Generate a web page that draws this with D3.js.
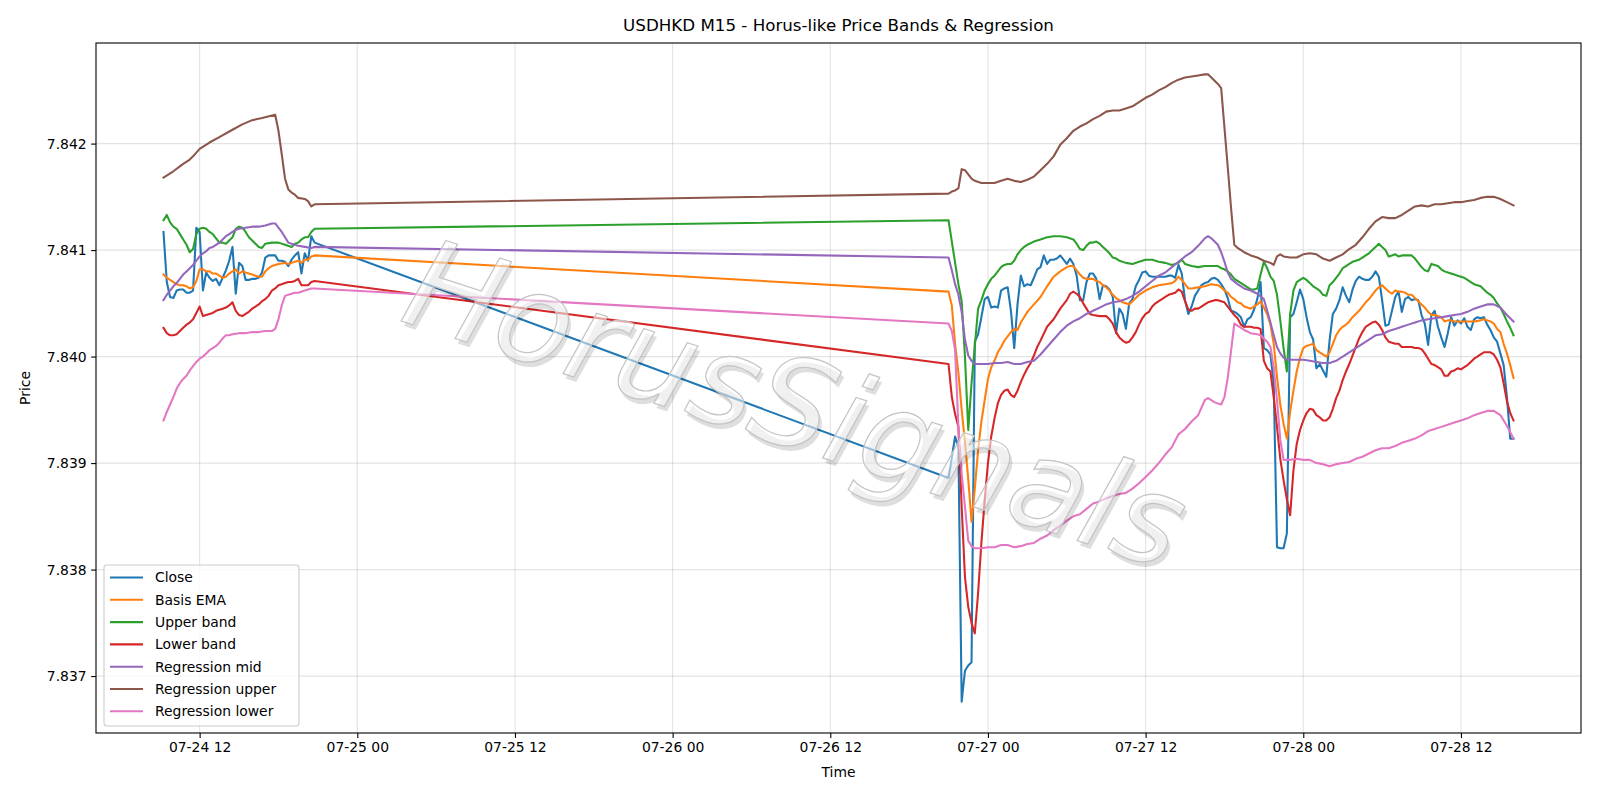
<!DOCTYPE html>
<html>
<head>
<meta charset="utf-8">
<script src="https://cdn.jsdelivr.net/npm/d3@7"></script>
<style>
  body { margin: 0; background: #fff; }
  text { font-family: "DejaVu Sans", sans-serif; }
</style>
</head>
<body>
<div id="vis"></div>
<script>
// series, [day hh:mm (July 2020, UTC), price]
const closeData = [
  ["24 09:15",7.84117],["24 09:30",7.84070],["24 09:45",7.84056],["24 10:00",7.84055],["24 10:15",7.84062],["24 10:30",7.84063],
  ["24 10:45",7.84063],["24 11:00",7.84060],["24 11:15",7.84060],["24 11:30",7.84062],["24 11:45",7.84121],["24 12:00",7.84117],
  ["24 12:15",7.84062],["24 12:30",7.84079],["24 12:45",7.84074],["24 13:00",7.84071],["24 13:15",7.84073],["24 13:30",7.84067],
  ["24 13:45",7.84074],["24 14:00",7.84081],["24 14:15",7.84090],["24 14:30",7.84103],["24 14:45",7.84059],["24 15:00",7.84088],
  ["24 15:15",7.84085],["24 15:30",7.84072],["24 15:45",7.84072],["24 16:00",7.84073],["24 16:15",7.84073],["24 16:30",7.84074],
  ["24 16:45",7.84079],["24 17:00",7.84093],["24 17:15",7.84095],["24 17:30",7.84095],["24 17:45",7.84095],["24 18:00",7.84090],
  ["24 18:15",7.84090],["24 18:30",7.84089],["24 18:45",7.84085],["24 19:00",7.84091],["24 19:15",7.84095],["24 19:30",7.84098],
  ["24 19:45",7.84078],["24 20:00",7.84097],["24 20:15",7.84090],["24 20:30",7.84113],["24 20:45",7.84107],
  ["26 21:00",7.83886],["26 21:15",7.83905],["26 21:30",7.83925],["26 21:45",7.83915],["26 22:00",7.83676],["26 22:15",7.83705],
  ["26 22:30",7.83710],["26 22:45",7.83713],["26 23:00",7.84014],["26 23:15",7.84021],["26 23:30",7.84037],["26 23:45",7.84054],
  ["27 00:00",7.84056],["27 00:15",7.84046],["27 00:30",7.84047],["27 00:45",7.84046],["27 01:00",7.84062],["27 01:15",7.84064],
  ["27 01:30",7.84065],["27 01:45",7.84043],["27 02:00",7.84008],["27 02:15",7.84049],["27 02:30",7.84076],["27 02:45",7.84066],
  ["27 03:00",7.84068],["27 03:15",7.84067],["27 03:30",7.84074],["27 03:45",7.84082],["27 04:00",7.84084],["27 04:15",7.84095],
  ["27 04:30",7.84087],["27 04:45",7.84091],["27 05:00",7.84091],["27 05:15",7.84092],["27 05:30",7.84095],["27 05:45",7.84091],
  ["27 06:00",7.84087],["27 06:15",7.84092],["27 06:30",7.84087],["27 06:45",7.84076],["27 07:00",7.84053],["27 07:15",7.84053],
  ["27 07:30",7.84070],["27 07:45",7.84078],["27 08:00",7.84078],["27 08:15",7.84073],["27 08:30",7.84054],["27 08:45",7.84067],
  ["27 09:00",7.84066],["27 09:15",7.84063],["27 09:30",7.84056],["27 09:45",7.84022],["27 10:00",7.84045],["27 10:15",7.84040],
  ["27 10:30",7.84026],["27 10:45",7.84050],["27 11:00",7.84054],["27 11:15",7.84066],["27 11:30",7.84072],["27 11:45",7.84079],
  ["27 12:00",7.84080],["27 12:15",7.84076],["27 12:30",7.84075],["27 12:45",7.84075],["27 13:00",7.84075],["27 13:15",7.84075],
  ["27 13:30",7.84075],["27 13:45",7.84076],["27 14:00",7.84076],["27 14:15",7.84074],["27 14:30",7.84086],["27 14:45",7.84078],
  ["27 15:00",7.84053],["27 15:15",7.84040],["27 15:30",7.84047],["27 15:45",7.84057],["27 16:00",7.84062],["27 16:15",7.84067],
  ["27 16:30",7.84069],["27 16:45",7.84070],["27 17:00",7.84073],["27 17:15",7.84074],["27 17:30",7.84072],["27 17:45",7.84068],
  ["27 18:00",7.84063],["27 18:15",7.84055],["27 18:30",7.84043],["27 18:45",7.84042],["27 19:00",7.84040],["27 19:15",7.84037],
  ["27 19:30",7.84028],["27 19:45",7.84035],["27 20:00",7.84037],["27 20:15",7.84044],["27 20:30",7.84054],["27 20:45",7.84070],
  ["27 21:00",7.84008],["27 21:15",7.84006],["27 21:30",7.84002],["27 21:45",7.83975],["27 22:00",7.83821],["27 22:15",7.83820],
  ["27 22:30",7.83820],["27 22:45",7.83834],["27 23:00",7.84037],["27 23:15",7.84040],["27 23:30",7.84051],["27 23:45",7.84063],
  ["28 00:00",7.84054],["28 00:15",7.84037],["28 00:30",7.84023],["28 00:45",7.84016],["28 01:00",7.83989],["28 01:15",7.83993],
  ["28 01:30",7.83987],["28 01:45",7.83981],["28 02:00",7.84015],["28 02:15",7.84040],["28 02:30",7.84045],["28 02:45",7.84053],
  ["28 03:00",7.84065],["28 03:15",7.84057],["28 03:30",7.84051],["28 03:45",7.84063],["28 04:00",7.84071],["28 04:15",7.84075],
  ["28 04:30",7.84073],["28 04:45",7.84072],["28 05:00",7.84072],["28 05:15",7.84075],["28 05:30",7.84080],["28 05:45",7.84075],
  ["28 06:00",7.84053],["28 06:15",7.84029],["28 06:30",7.84030],["28 06:45",7.84043],["28 07:00",7.84056],["28 07:15",7.84061],
  ["28 07:30",7.84042],["28 07:45",7.84054],["28 08:00",7.84056],["28 08:15",7.84053],["28 08:30",7.84054],["28 08:45",7.84053],
  ["28 09:00",7.84039],["28 09:15",7.84031],["28 09:30",7.84011],["28 09:45",7.84039],["28 10:00",7.84043],["28 10:15",7.84028],
  ["28 10:30",7.84018],["28 10:45",7.84009],["28 11:00",7.84022],["28 11:15",7.84037],["28 11:30",7.84029],["28 11:45",7.84034],
  ["28 12:00",7.84031],["28 12:15",7.84036],["28 12:30",7.84028],["28 12:45",7.84025],["28 13:00",7.84035],["28 13:15",7.84037],
  ["28 13:30",7.84036],["28 13:45",7.84037],["28 14:00",7.84030],["28 14:15",7.84025],["28 14:30",7.84018],["28 14:45",7.84014],
  ["28 15:00",7.84003],["28 15:15",7.83992],["28 15:30",7.83962],["28 15:45",7.83923],["28 16:00",7.83923]
]

const emaData = [
  ["24 09:15",7.84077],["24 09:30",7.84074],["24 09:45",7.84072],["24 10:00",7.84070],["24 10:15",7.84068],["24 10:30",7.84067],
  ["24 10:45",7.84067],["24 11:00",7.84066],["24 11:15",7.84064],["24 11:30",7.84065],["24 11:45",7.84071],["24 12:00",7.84082],
  ["24 12:15",7.84082],["24 12:30",7.84080],["24 12:45",7.84080],["24 13:00",7.84078],["24 13:15",7.84078],["24 13:30",7.84076],
  ["24 13:45",7.84074],["24 14:00",7.84075],["24 14:15",7.84078],["24 14:30",7.84080],["24 14:45",7.84082],["24 15:00",7.84078],
  ["24 15:15",7.84080],["24 15:30",7.84079],["24 15:45",7.84078],["24 16:00",7.84077],["24 16:15",7.84076],["24 16:30",7.84075],
  ["24 16:45",7.84075],["24 17:00",7.84080],["24 17:15",7.84083],["24 17:30",7.84085],["24 17:45",7.84086],["24 18:00",7.84087],
  ["24 18:30",7.84088],["24 18:45",7.84087],["24 19:00",7.84088],["24 19:15",7.84089],["24 19:30",7.84090],["24 19:45",7.84088],
  ["24 20:00",7.84091],["24 20:15",7.84091],["24 20:30",7.84094],["24 20:45",7.84095],
  ["26 21:00",7.84061],["26 21:15",7.84048],["26 21:30",7.84012],["26 21:45",7.83985],["26 22:00",7.83950],["26 22:15",7.83920],
  ["26 22:30",7.83885],["26 22:45",7.83845],["26 23:00",7.83876],["26 23:15",7.83912],["26 23:30",7.83939],["26 23:45",7.83959],
  ["27 00:00",7.83979],["27 00:15",7.83990],["27 00:30",7.83996],["27 00:45",7.84004],["27 01:00",7.84009],["27 01:15",7.84015],
  ["27 01:30",7.84019],["27 01:45",7.84023],["27 02:00",7.84026],["27 02:15",7.84025],["27 02:30",7.84032],["27 02:45",7.84037],
  ["27 03:00",7.84042],["27 03:30",7.84049],["27 04:00",7.84056],["27 04:30",7.84066],["27 05:00",7.84075],["27 05:30",7.84080],
  ["27 06:00",7.84084],["27 06:15",7.84085],["27 06:30",7.84085],["27 06:45",7.84081],["27 07:00",7.84077],["27 07:15",7.84074],
  ["27 07:30",7.84073],["27 07:45",7.84073],["27 08:00",7.84073],["27 08:15",7.84071],["27 08:30",7.84070],["27 08:45",7.84067],
  ["27 09:00",7.84065],["27 09:15",7.84062],["27 09:30",7.84058],["27 09:45",7.84055],["27 10:00",7.84053],["27 10:15",7.84051],
  ["27 10:30",7.84050],["27 10:45",7.84049],["27 11:00",7.84052],["27 11:15",7.84055],["27 11:30",7.84058],["27 11:45",7.84060],
  ["27 12:00",7.84062],["27 12:30",7.84065],["27 13:00",7.84067],["27 13:30",7.84068],["27 14:00",7.84069],["27 14:15",7.84071],
  ["27 14:30",7.84075],["27 14:45",7.84072],["27 15:00",7.84068],["27 15:15",7.84064],["27 15:30",7.84064],["27 16:00",7.84065],
  ["27 16:30",7.84066],["27 17:00",7.84068],["27 17:30",7.84067],["27 17:45",7.84065],["27 18:00",7.84062],["27 18:15",7.84060],
  ["27 18:30",7.84056],["27 18:45",7.84054],["27 19:00",7.84051],["27 19:15",7.84050],["27 19:30",7.84047],["27 19:45",7.84046],
  ["27 20:00",7.84045],["27 20:15",7.84047],["27 20:30",7.84049],["27 20:45",7.84052],["27 21:00",7.84046],["27 21:15",7.84040],
  ["27 21:30",7.84030],["27 21:45",7.84012],["27 22:00",7.83981],["27 22:15",7.83955],["27 22:30",7.83937],["27 22:45",7.83923],
  ["27 23:00",7.83948],["27 23:15",7.83968],["27 23:30",7.83986],["27 23:45",7.83999],["28 00:00",7.84008],["28 00:15",7.84010],
  ["28 00:30",7.84011],["28 00:45",7.84012],["28 01:00",7.84006],["28 01:15",7.84004],["28 01:30",7.84002],["28 01:45",7.84000],
  ["28 02:00",7.84004],["28 02:15",7.84012],["28 02:30",7.84020],["28 02:45",7.84025],["28 03:00",7.84028],["28 03:15",7.84030],
  ["28 03:30",7.84033],["28 03:45",7.84037],["28 04:00",7.84040],["28 04:15",7.84043],["28 04:30",7.84047],["28 04:45",7.84051],
  ["28 05:00",7.84054],["28 05:15",7.84058],["28 05:30",7.84062],["28 05:45",7.84065],["28 06:00",7.84067],["28 06:15",7.84064],
  ["28 06:30",7.84061],["28 06:45",7.84059],["28 07:00",7.84062],["28 07:15",7.84061],["28 07:30",7.84061],["28 07:45",7.84060],
  ["28 08:00",7.84058],["28 08:15",7.84058],["28 08:30",7.84055],["28 08:45",7.84052],["28 09:00",7.84049],["28 09:15",7.84046],
  ["28 09:30",7.84042],["28 09:45",7.84039],["28 10:00",7.84039],["28 10:15",7.84038],["28 10:30",7.84037],["28 10:45",7.84033],
  ["28 11:00",7.84034],["28 11:15",7.84034],["28 11:30",7.84033],["28 12:00",7.84033],["28 12:30",7.84033],["28 13:00",7.84033],
  ["28 13:30",7.84034],["28 13:45",7.84035],["28 14:00",7.84034],["28 14:15",7.84033],["28 14:30",7.84031],["28 14:45",7.84026],
  ["28 15:00",7.84023],["28 15:15",7.84012],["28 15:30",7.84003],["28 15:45",7.83992],["28 16:00",7.83980]
]

const upperData = [
  ["24 09:15",7.84128],["24 09:30",7.84133],["24 09:45",7.84126],["24 10:00",7.84122],["24 10:15",7.84120],["24 10:30",7.84115],
  ["24 10:45",7.84110],["24 11:00",7.84105],["24 11:15",7.84098],["24 11:30",7.84101],["24 11:45",7.84115],["24 12:00",7.84120],
  ["24 12:15",7.84121],["24 12:30",7.84120],["24 12:45",7.84117],["24 13:00",7.84115],["24 13:15",7.84111],["24 13:30",7.84107],
  ["24 13:45",7.84107],["24 14:00",7.84106],["24 14:15",7.84109],["24 14:30",7.84112],["24 14:45",7.84120],["24 15:00",7.84122],
  ["24 15:15",7.84121],["24 15:30",7.84117],["24 15:45",7.84112],["24 16:00",7.84109],["24 16:15",7.84106],["24 16:30",7.84103],
  ["24 16:45",7.84102],["24 17:00",7.84106],["24 17:30",7.84107],["24 18:00",7.84107],["24 18:30",7.84105],["24 19:00",7.84103],
  ["24 19:15",7.84106],["24 19:30",7.84107],["24 19:45",7.84110],["24 20:00",7.84112],["24 20:15",7.84112],["24 20:30",7.84117],
  ["24 20:45",7.84120],
  ["26 21:00",7.84128],["26 21:15",7.84108],["26 21:30",7.84088],["26 21:45",7.84068],["26 22:00",7.84052],["26 22:15",7.84000],
  ["26 22:30",7.83931],["26 22:45",7.83975],["26 23:00",7.84010],["26 23:15",7.84045],["26 23:30",7.84053],["26 23:45",7.84062],
  ["27 00:00",7.84068],["27 00:15",7.84073],["27 00:30",7.84076],["27 00:45",7.84080],["27 01:00",7.84084],["27 01:15",7.84086],
  ["27 01:30",7.84087],["27 01:45",7.84087],["27 02:00",7.84090],["27 02:15",7.84096],["27 02:30",7.84100],["27 02:45",7.84103],
  ["27 03:00",7.84105],["27 03:30",7.84108],["27 04:00",7.84110],["27 04:30",7.84112],["27 05:00",7.84113],["27 05:30",7.84113],
  ["27 06:00",7.84112],["27 06:30",7.84110],["27 06:45",7.84106],["27 07:00",7.84101],["27 07:15",7.84100],["27 07:30",7.84104],
  ["27 07:45",7.84107],["27 08:00",7.84107],["27 08:15",7.84108],["27 08:30",7.84106],["27 08:45",7.84103],["27 09:00",7.84100],
  ["27 09:15",7.84097],["27 09:30",7.84093],["27 09:45",7.84092],["27 10:00",7.84090],["27 10:30",7.84088],["27 11:00",7.84087],
  ["27 11:30",7.84089],["27 12:00",7.84091],["27 12:30",7.84091],["27 13:00",7.84089],["27 13:30",7.84088],["27 14:00",7.84086],
  ["27 14:30",7.84088],["27 14:45",7.84091],["27 15:00",7.84087],["27 15:30",7.84085],["27 16:00",7.84084],["27 16:30",7.84085],
  ["27 17:00",7.84085],["27 17:30",7.84085],["27 17:45",7.84083],["27 18:00",7.84082],["27 18:15",7.84080],["27 18:30",7.84077],
  ["27 18:45",7.84073],["27 19:00",7.84071],["27 19:30",7.84067],["27 20:00",7.84063],["27 20:15",7.84063],["27 20:30",7.84064],
  ["27 20:45",7.84077],["27 21:00",7.84089],["27 21:15",7.84083],["27 21:30",7.84075],["27 21:45",7.84071],["27 22:00",7.84058],
  ["27 22:15",7.84034],["27 22:30",7.84008],["27 22:45",7.83986],["27 23:00",7.84040],["27 23:15",7.84062],["27 23:30",7.84070],
  ["27 23:45",7.84072],["28 00:00",7.84074],["28 00:15",7.84072],["28 00:30",7.84069],["28 00:45",7.84066],["28 01:00",7.84064],
  ["28 01:15",7.84062],["28 01:30",7.84058],["28 01:45",7.84057],["28 02:00",7.84067],["28 02:15",7.84070],["28 02:30",7.84074],
  ["28 02:45",7.84078],["28 03:00",7.84083],["28 03:15",7.84085],["28 03:30",7.84087],["28 03:45",7.84089],["28 04:00",7.84090],
  ["28 04:15",7.84091],["28 04:30",7.84093],["28 04:45",7.84095],["28 05:00",7.84097],["28 05:15",7.84100],["28 05:30",7.84103],
  ["28 05:45",7.84106],["28 06:00",7.84103],["28 06:15",7.84100],["28 06:30",7.84094],["28 06:45",7.84095],["28 07:00",7.84096],
  ["28 07:15",7.84094],["28 07:30",7.84095],["28 07:45",7.84095],["28 08:00",7.84095],["28 08:15",7.84095],["28 08:30",7.84092],
  ["28 08:45",7.84088],["28 09:00",7.84084],["28 09:15",7.84081],["28 09:30",7.84080],["28 09:45",7.84087],["28 10:00",7.84086],
  ["28 10:15",7.84085],["28 10:30",7.84082],["28 10:45",7.84080],["28 11:00",7.84079],["28 11:15",7.84078],["28 11:30",7.84077],
  ["28 11:45",7.84076],["28 12:00",7.84075],["28 12:15",7.84074],["28 12:30",7.84072],["28 12:45",7.84070],["28 13:00",7.84068],
  ["28 13:15",7.84067],["28 13:30",7.84066],["28 13:45",7.84063],["28 14:00",7.84060],["28 14:15",7.84058],["28 14:30",7.84055],
  ["28 14:45",7.84050],["28 15:00",7.84046],["28 15:15",7.84040],["28 15:30",7.84033],["28 15:45",7.84027],["28 16:00",7.84020]
]

const lowerData = [
  ["24 09:15",7.84027],["24 09:30",7.84022],["24 09:45",7.84020],["24 10:00",7.84020],["24 10:15",7.84021],["24 10:30",7.84024],
  ["24 10:45",7.84027],["24 11:00",7.84030],["24 11:15",7.84032],["24 11:30",7.84035],["24 11:45",7.84041],["24 12:00",7.84047],
  ["24 12:15",7.84038],["24 12:30",7.84039],["24 12:45",7.84040],["24 13:00",7.84041],["24 13:15",7.84043],["24 13:30",7.84044],
  ["24 13:45",7.84045],["24 14:00",7.84046],["24 14:15",7.84048],["24 14:30",7.84051],["24 14:45",7.84043],["24 15:00",7.84039],
  ["24 15:15",7.84038],["24 15:30",7.84040],["24 15:45",7.84042],["24 16:00",7.84045],["24 16:15",7.84047],["24 16:30",7.84049],
  ["24 16:45",7.84052],["24 17:00",7.84054],["24 17:15",7.84057],["24 17:30",7.84062],["24 17:45",7.84064],["24 18:00",7.84067],
  ["24 18:15",7.84068],["24 18:30",7.84069],["24 18:45",7.84070],["24 19:00",7.84070],["24 19:15",7.84071],["24 19:30",7.84073],
  ["24 19:45",7.84067],["24 20:00",7.84067],["24 20:15",7.84067],["24 20:30",7.84070],["24 20:45",7.84071],
  ["26 21:00",7.83993],["26 21:15",7.83962],["26 21:30",7.83946],["26 21:45",7.83934],["26 22:00",7.83859],["26 22:15",7.83793],
  ["26 22:30",7.83765],["26 22:45",7.83750],["26 23:00",7.83740],["26 23:15",7.83778],["26 23:30",7.83825],["26 23:45",7.83865],
  ["27 00:00",7.83900],["27 00:15",7.83925],["27 00:30",7.83942],["27 00:45",7.83956],["27 01:00",7.83964],["27 01:15",7.83968],
  ["27 01:30",7.83969],["27 01:45",7.83964],["27 02:00",7.83962],["27 02:15",7.83968],["27 02:30",7.83976],["27 02:45",7.83983],
  ["27 03:00",7.83989],["27 03:15",7.83994],["27 03:30",7.84001],["27 03:45",7.84009],["27 04:00",7.84015],["27 04:30",7.84028],
  ["27 05:00",7.84035],["27 05:30",7.84045],["27 06:00",7.84053],["27 06:15",7.84059],["27 06:30",7.84061],["27 06:45",7.84059],
  ["27 07:00",7.84056],["27 07:15",7.84050],["27 07:30",7.84045],["27 07:45",7.84040],["27 08:00",7.84039],["27 08:30",7.84038],
  ["27 09:00",7.84038],["27 09:15",7.84035],["27 09:30",7.84031],["27 09:45",7.84023],["27 10:00",7.84018],["27 10:15",7.84015],
  ["27 10:30",7.84013],["27 10:45",7.84014],["27 11:00",7.84018],["27 11:15",7.84023],["27 11:30",7.84030],["27 11:45",7.84036],
  ["27 12:00",7.84040],["27 12:15",7.84042],["27 12:30",7.84047],["27 12:45",7.84050],["27 13:00",7.84052],["27 13:15",7.84054],
  ["27 13:30",7.84056],["27 13:45",7.84058],["27 14:00",7.84059],["27 14:15",7.84060],["27 14:30",7.84063],["27 14:45",7.84061],
  ["27 15:00",7.84052],["27 15:15",7.84044],["27 15:30",7.84043],["27 15:45",7.84045],["27 16:00",7.84045],["27 16:15",7.84047],
  ["27 16:30",7.84049],["27 16:45",7.84051],["27 17:00",7.84052],["27 17:15",7.84053],["27 17:30",7.84053],["27 17:45",7.84052],
  ["27 18:00",7.84051],["27 18:15",7.84047],["27 18:30",7.84043],["27 18:45",7.84039],["27 19:00",7.84036],["27 19:15",7.84030],
  ["27 19:30",7.84028],["27 19:45",7.84028],["27 20:00",7.84028],["27 20:15",7.84027],["27 20:30",7.84027],["27 20:45",7.84026],
  ["27 21:00",7.83996],["27 21:15",7.83989],["27 21:30",7.83986],["27 21:45",7.83962],["27 22:00",7.83934],["27 22:15",7.83904],
  ["27 22:30",7.83884],["27 22:45",7.83866],["27 23:00",7.83851],["27 23:15",7.83893],["27 23:30",7.83918],["27 23:45",7.83931],
  ["28 00:00",7.83940],["28 00:15",7.83947],["28 00:30",7.83951],["28 00:45",7.83950],["28 01:00",7.83945],["28 01:15",7.83943],
  ["28 01:30",7.83940],["28 01:45",7.83940],["28 02:00",7.83943],["28 02:15",7.83951],["28 02:30",7.83961],["28 02:45",7.83968],
  ["28 03:00",7.83978],["28 03:15",7.83986],["28 03:30",7.83993],["28 03:45",7.84001],["28 04:00",7.84009],["28 04:15",7.84017],
  ["28 04:30",7.84023],["28 04:45",7.84028],["28 05:00",7.84030],["28 05:15",7.84032],["28 05:30",7.84033],["28 05:45",7.84030],
  ["28 06:00",7.84025],["28 06:15",7.84018],["28 06:30",7.84014],["28 06:45",7.84013],["28 07:00",7.84012],["28 07:15",7.84012],
  ["28 07:30",7.84009],["28 07:45",7.84009],["28 08:00",7.84009],["28 08:15",7.84009],["28 08:30",7.84008],["28 08:45",7.84008],
  ["28 09:00",7.84007],["28 09:15",7.84003],["28 09:30",7.83998],["28 09:45",7.83993],["28 10:00",7.83992],["28 10:15",7.83990],
  ["28 10:30",7.83988],["28 10:45",7.83982],["28 11:00",7.83982],["28 11:15",7.83986],["28 11:30",7.83987],["28 11:45",7.83989],
  ["28 12:00",7.83988],["28 12:15",7.83990],["28 12:30",7.83992],["28 12:45",7.83995],["28 13:00",7.83998],["28 13:15",7.84000],
  ["28 13:30",7.84002],["28 13:45",7.84004],["28 14:00",7.84004],["28 14:15",7.84004],["28 14:30",7.84002],["28 14:45",7.83997],
  ["28 15:00",7.83990],["28 15:15",7.83975],["28 15:30",7.83958],["28 15:45",7.83947],["28 16:00",7.83940]
]

const regMidData = [
  ["24 09:15",7.84053],["24 09:30",7.84058],["24 09:45",7.84062],["24 10:00",7.84066],["24 10:15",7.84069],["24 10:30",7.84073],
  ["24 10:45",7.84077],["24 11:00",7.84080],["24 11:15",7.84083],["24 11:30",7.84086],["24 11:45",7.84090],["24 12:00",7.84094],
  ["24 12:15",7.84097],["24 12:30",7.84099],["24 12:45",7.84102],["24 13:00",7.84103],["24 13:15",7.84105],["24 13:30",7.84107],
  ["24 13:45",7.84110],["24 14:00",7.84113],["24 14:15",7.84115],["24 14:30",7.84117],["24 14:45",7.84119],["24 15:00",7.84120],
  ["24 15:30",7.84121],["24 16:00",7.84122],["24 16:30",7.84122],["24 17:00",7.84123],["24 17:30",7.84125],["24 17:45",7.84125],
  ["24 18:00",7.84121],["24 18:15",7.84117],["24 18:30",7.84112],["24 18:45",7.84107],["24 19:00",7.84106],["24 19:30",7.84104],
  ["24 20:00",7.84103],["24 20:30",7.84102],["24 20:45",7.84103],
  ["26 21:00",7.84093],["26 21:15",7.84081],["26 21:30",7.84068],["26 21:45",7.84058],["26 22:00",7.84042],["26 22:15",7.84016],
  ["26 22:30",7.84001],["26 22:45",7.83996],["26 23:00",7.83993],["26 23:30",7.83993],["27 00:00",7.83993],["27 00:30",7.83994],
  ["27 01:00",7.83994],["27 01:30",7.83995],["27 02:00",7.83993],["27 02:30",7.83993],["27 03:00",7.83995],["27 03:30",7.83996],
  ["27 04:00",7.84002],["27 04:30",7.84009],["27 05:00",7.84016],["27 05:30",7.84023],["27 06:00",7.84029],["27 06:30",7.84033],
  ["27 07:00",7.84036],["27 07:30",7.84040],["27 08:00",7.84043],["27 08:30",7.84046],["27 09:00",7.84049],["27 09:30",7.84051],
  ["27 10:00",7.84052],["27 10:30",7.84054],["27 11:00",7.84057],["27 11:30",7.84061],["27 12:00",7.84066],["27 12:30",7.84071],
  ["27 13:00",7.84076],["27 13:30",7.84079],["27 14:00",7.84084],["27 14:30",7.84089],["27 15:00",7.84094],["27 15:30",7.84098],
  ["27 16:00",7.84104],["27 16:30",7.84111],["27 16:45",7.84113],["27 17:00",7.84111],["27 17:15",7.84108],["27 17:30",7.84105],
  ["27 17:45",7.84098],["27 18:00",7.84089],["27 18:15",7.84079],["27 18:30",7.84073],["27 19:00",7.84068],["27 19:30",7.84064],
  ["27 20:00",7.84062],["27 20:30",7.84059],["27 21:00",7.84054],["27 21:15",7.84043],["27 21:30",7.84032],["27 21:45",7.84020],
  ["27 22:00",7.84009],["27 22:15",7.84003],["27 22:30",7.83999],["27 22:45",7.83997],["27 23:00",7.83997],["27 23:30",7.83997],
  ["28 00:00",7.83997],["28 00:30",7.83996],["28 01:00",7.83995],["28 01:30",7.83994],["28 02:00",7.83994],["28 02:30",7.83996],
  ["28 03:00",7.84000],["28 03:30",7.84004],["28 04:00",7.84008],["28 04:30",7.84012],["28 05:00",7.84016],["28 05:30",7.84020],
  ["28 06:00",7.84021],["28 06:30",7.84024],["28 07:00",7.84026],["28 07:30",7.84028],["28 08:00",7.84030],["28 08:30",7.84032],
  ["28 09:00",7.84034],["28 09:30",7.84035],["28 10:00",7.84036],["28 10:30",7.84037],["28 11:00",7.84038],["28 11:30",7.84039],
  ["28 12:00",7.84040],["28 12:30",7.84042],["28 13:00",7.84045],["28 13:30",7.84047],["28 14:00",7.84049],["28 14:30",7.84049],
  ["28 15:00",7.84046],["28 15:30",7.84039],["28 16:00",7.84033]
]

const regUpperData = [
  ["24 09:15",7.84168],["24 10:00",7.84174],["24 10:45",7.84181],["24 11:15",7.84185],["24 11:30",7.84188],["24 12:00",7.84195],
  ["24 12:45",7.84201],["24 13:30",7.84206],["24 14:30",7.84213],["24 15:15",7.84218],["24 16:00",7.84222],["24 16:45",7.84224],
  ["24 17:45",7.84227],["24 18:00",7.84212],["24 18:15",7.84190],["24 18:30",7.84167],["24 18:45",7.84157],["24 19:00",7.84154],
  ["24 19:15",7.84152],["24 19:30",7.84149],["24 20:00",7.84148],["24 20:15",7.84146],["24 20:30",7.84141],["24 20:45",7.84143],
  ["26 21:00",7.84153],["26 21:15",7.84155],["26 21:30",7.84156],["26 21:45",7.84158],["26 22:00",7.84176],["26 22:15",7.84175],
  ["26 22:30",7.84171],["26 22:45",7.84167],["26 23:00",7.84165],["26 23:30",7.84163],["27 00:00",7.84163],["27 00:30",7.84163],
  ["27 01:00",7.84165],["27 01:30",7.84167],["27 02:00",7.84165],["27 02:30",7.84164],["27 03:00",7.84166],["27 03:30",7.84169],
  ["27 04:00",7.84175],["27 04:30",7.84181],["27 05:00",7.84188],["27 05:30",7.84199],["27 06:00",7.84205],["27 06:30",7.84212],
  ["27 07:00",7.84216],["27 07:30",7.84219],["27 08:00",7.84223],["27 08:30",7.84226],["27 09:00",7.84230],["27 09:30",7.84231],
  ["27 10:00",7.84231],["27 10:30",7.84233],["27 11:00",7.84235],["27 11:30",7.84239],["27 12:00",7.84243],["27 12:30",7.84246],
  ["27 13:00",7.84250],["27 13:30",7.84253],["27 14:00",7.84257],["27 14:30",7.84260],["27 15:00",7.84262],["27 15:30",7.84263],
  ["27 16:00",7.84264],["27 16:30",7.84265],["27 16:45",7.84265],["27 17:00",7.84262],["27 17:15",7.84259],["27 17:30",7.84256],
  ["27 17:45",7.84252],["27 18:00",7.84215],["27 18:15",7.84178],["27 18:30",7.84140],["27 18:45",7.84105],["27 19:00",7.84102],
  ["27 19:30",7.84098],["27 20:00",7.84095],["27 20:30",7.84093],["27 21:00",7.84090],["27 21:30",7.84088],["27 21:45",7.84086],
  ["27 22:00",7.84094],["27 22:15",7.84096],["27 22:30",7.84094],["27 23:00",7.84093],["27 23:30",7.84093],["28 00:00",7.84096],
  ["28 00:30",7.84097],["28 01:00",7.84096],["28 01:30",7.84092],["28 02:00",7.84090],["28 02:30",7.84093],["28 03:00",7.84096],
  ["28 03:30",7.84101],["28 04:00",7.84105],["28 04:30",7.84112],["28 05:00",7.84120],["28 05:30",7.84127],["28 06:00",7.84131],
  ["28 06:30",7.84130],["28 07:00",7.84130],["28 07:30",7.84133],["28 08:00",7.84137],["28 08:30",7.84141],["28 09:00",7.84142],
  ["28 09:30",7.84141],["28 10:00",7.84143],["28 10:30",7.84143],["28 11:00",7.84144],["28 11:30",7.84145],["28 12:00",7.84145],
  ["28 12:30",7.84146],["28 13:00",7.84147],["28 13:30",7.84149],["28 14:00",7.84150],["28 14:30",7.84150],["28 15:00",7.84148],
  ["28 15:30",7.84145],["28 16:00",7.84142]
]

const regLowerData = [
  ["24 09:15",7.83940],["24 09:30",7.83948],["24 09:45",7.83955],["24 10:00",7.83962],["24 10:15",7.83970],["24 10:30",7.83975],
  ["24 10:45",7.83979],["24 11:00",7.83982],["24 11:15",7.83987],["24 11:30",7.83991],["24 11:45",7.83995],["24 12:00",7.83998],
  ["24 12:15",7.84000],["24 12:30",7.84003],["24 12:45",7.84006],["24 13:00",7.84008],["24 13:15",7.84010],["24 13:30",7.84013],
  ["24 13:45",7.84017],["24 14:00",7.84020],["24 14:15",7.84020],["24 14:30",7.84021],["24 15:00",7.84022],["24 15:30",7.84022],
  ["24 16:00",7.84023],["24 16:30",7.84023],["24 17:00",7.84024],["24 17:30",7.84024],["24 17:45",7.84026],["24 18:00",7.84035],
  ["24 18:15",7.84048],["24 18:30",7.84057],["24 18:45",7.84058],["24 19:00",7.84059],["24 19:15",7.84060],["24 19:30",7.84060],
  ["24 20:00",7.84062],["24 20:15",7.84063],["24 20:30",7.84064],["24 20:45",7.84064],
  ["26 21:00",7.84031],["26 21:15",7.84024],["26 21:30",7.84006],["26 21:45",7.83934],["26 22:00",7.83890],["26 22:15",7.83859],
  ["26 22:30",7.83827],["26 22:45",7.83822],["26 23:00",7.83820],["26 23:30",7.83820],["27 00:00",7.83821],["27 00:30",7.83821],
  ["27 01:00",7.83823],["27 01:30",7.83823],["27 02:00",7.83821],["27 02:30",7.83822],["27 03:00",7.83824],["27 03:30",7.83825],
  ["27 04:00",7.83829],["27 04:30",7.83832],["27 05:00",7.83837],["27 05:30",7.83841],["27 06:00",7.83846],["27 06:30",7.83850],
  ["27 07:00",7.83852],["27 07:30",7.83857],["27 08:00",7.83862],["27 08:30",7.83864],["27 09:00",7.83867],["27 09:30",7.83869],
  ["27 10:00",7.83871],["27 10:30",7.83872],["27 11:00",7.83876],["27 11:30",7.83881],["27 12:00",7.83887],["27 12:30",7.83893],
  ["27 13:00",7.83900],["27 13:30",7.83908],["27 14:00",7.83915],["27 14:30",7.83927],["27 15:00",7.83932],["27 15:30",7.83939],
  ["27 16:00",7.83945],["27 16:30",7.83959],["27 16:45",7.83961],["27 17:00",7.83959],["27 17:15",7.83957],["27 17:45",7.83955],
  ["27 18:00",7.83962],["27 18:15",7.83980],["27 18:30",7.84005],["27 18:45",7.84031],["27 19:00",7.84029],["27 19:30",7.84025],
  ["27 20:00",7.84022],["27 20:30",7.84021],["27 20:45",7.84020],["27 21:00",7.84017],["27 21:15",7.84014],["27 21:30",7.84009],
  ["27 21:45",7.83990],["27 22:00",7.83959],["27 22:15",7.83922],["27 22:30",7.83903],["27 23:00",7.83903],["27 23:30",7.83904],
  ["28 00:00",7.83903],["28 00:30",7.83903],["28 01:00",7.83900],["28 01:30",7.83899],["28 02:00",7.83897],["28 02:30",7.83899],
  ["28 03:00",7.83900],["28 03:30",7.83901],["28 04:00",7.83904],["28 04:30",7.83906],["28 05:00",7.83909],["28 05:30",7.83912],
  ["28 06:00",7.83914],["28 06:30",7.83914],["28 07:00",7.83916],["28 07:30",7.83919],["28 08:00",7.83921],["28 08:30",7.83923],
  ["28 09:00",7.83926],["28 09:30",7.83930],["28 10:00",7.83932],["28 10:30",7.83934],["28 11:00",7.83936],["28 11:30",7.83938],
  ["28 12:00",7.83940],["28 12:30",7.83942],["28 13:00",7.83945],["28 13:30",7.83947],["28 14:00",7.83949],["28 14:30",7.83949],
  ["28 15:00",7.83945],["28 15:30",7.83935],["28 16:00",7.83923]
]

const seriesNames = ["Close", "Basis EMA", "Upper band", "Lower band", "Regression mid", "Regression upper", "Regression lower"]
const seriesColors = ["#1f77b4", "#ff7f0e", "#2ca02c", "#d62728", "#9467bd", "#8c564b", "#e377c2"]
const allSeries = [closeData, emaData, upperData, lowerData, regMidData, regUpperData, regLowerData]
const priceTicks = [7.837, 7.838, 7.839, 7.840, 7.841, 7.842]

const width = 1600, height = 800
const margin = {left: 96, top: 43, right: 19, bottom: 67}
const plotW = width - margin.left - margin.right
const plotH = height - margin.top - margin.bottom

const parseTime = d3.utcParse("%Y-%m-%d %H:%M")
const toPoints = arr => arr.map(d => ({t: parseTime("2020-07-" + d[0]), v: d[1]}))
const series = allSeries.map((s, i) => ({name: seriesNames[i], color: seriesColors[i], points: toPoints(s)}))

// matplotlib style 5% margins on both axes
const flat = series.flatMap(s => s.points)
const tExt = d3.extent(flat, d => d.t)
const vExt = d3.extent(flat, d => d.v)
const tPad = (tExt[1] - tExt[0]) * 0.05
const vPad = (vExt[1] - vExt[0]) * 0.05

const x = d3.scaleUtc()
    .domain([new Date(+tExt[0] - tPad), new Date(+tExt[1] + tPad)])
    .range([margin.left, margin.left + plotW])
const y = d3.scaleLinear()
    .domain([vExt[0] - vPad, vExt[1] + vPad])
    .range([margin.top + plotH, margin.top])

const timeTicks = d3.utcHour.every(12).range(x.domain()[0], x.domain()[1])

const svg = d3.select("#vis").append("svg")
    .attr("width", width)
    .attr("height", height)

svg.append("rect").attr("width", width).attr("height", height).attr("fill", "#fff")

// grid
let grid = svg.append("g").attr("class", "grid")
grid.selectAll(".gx").data(timeTicks).enter().append("line")
    .attr("x1", d => x(d)).attr("x2", d => x(d))
    .attr("y1", margin.top).attr("y2", margin.top + plotH)
    .attr("stroke", "#b0b0b0").attr("stroke-opacity", 0.35).attr("stroke-width", 1.1)
grid.selectAll(".gy").data(priceTicks).enter().append("line")
    .attr("y1", d => y(d)).attr("y2", d => y(d))
    .attr("x1", margin.left).attr("x2", margin.left + plotW)
    .attr("stroke", "#b0b0b0").attr("stroke-opacity", 0.35).attr("stroke-width", 1.1)

svg.append("clipPath").attr("id", "clip")
  .append("rect").attr("x", margin.left).attr("y", margin.top).attr("width", plotW).attr("height", plotH)

const line = d3.line().x(d => x(d.t)).y(d => y(d.v))

svg.append("g").attr("clip-path", "url(#clip)")
  .selectAll("path").data(series).enter().append("path")
    .attr("d", d => line(d.points))
    .attr("fill", "none")
    .attr("stroke", d => d.color)
    .attr("stroke-width", 2.08)
    .attr("stroke-linejoin", "round")
    .attr("stroke-linecap", "square")

// watermark
const wm = svg.append("g")
    .attr("transform", `translate(${width / 2 - 4},${height / 2 + 4}) rotate(18)`)
wm.append("text")
    .attr("x", 4).attr("y", 4)
    .attr("text-anchor", "middle").attr("dominant-baseline", "central")
    .attr("font-size", 124).attr("font-style", "italic")
    .attr("fill", "#000").attr("fill-opacity", 0.13)
    .text("HorusSignals")
wm.append("text")
    .attr("text-anchor", "middle").attr("dominant-baseline", "central")
    .attr("font-size", 124).attr("font-style", "italic")
    .attr("fill", "#fff").attr("fill-opacity", 0.55)
    .attr("stroke", "#c4c4c4").attr("stroke-width", 1.2)
    .text("HorusSignals")

// axes
let xAxis = d3.axisBottom(x)
    .tickValues(timeTicks)
    .tickFormat(d3.utcFormat("%m-%d %H"))
    .tickSize(4.9).tickPadding(4.5).tickSizeOuter(0)
let xAxisGroup = svg.append("g")
    .attr("transform", `translate(0,${margin.top + plotH})`)
    .call(xAxis)
    .call(g => g.select(".domain").remove())
xAxisGroup.selectAll("text").attr("font-size", 13.9).attr("fill", "#000").attr("font-family", "DejaVu Sans")
xAxisGroup.selectAll(".tick line").attr("stroke", "#000").attr("stroke-width", 1.1)

let yAxis = d3.axisLeft(y)
    .tickValues(priceTicks)
    .tickFormat(d3.format(".3f"))
    .tickSize(4.9).tickPadding(4.5).tickSizeOuter(0)
let yAxisGroup = svg.append("g")
    .attr("transform", `translate(${margin.left},0)`)
    .call(yAxis)
    .call(g => g.select(".domain").remove())
yAxisGroup.selectAll("text").attr("font-size", 13.9).attr("fill", "#000").attr("font-family", "DejaVu Sans")
yAxisGroup.selectAll(".tick line").attr("stroke", "#000").attr("stroke-width", 1.1)

svg.append("rect")
    .attr("x", margin.left).attr("y", margin.top)
    .attr("width", plotW).attr("height", plotH)
    .attr("fill", "none").attr("stroke", "#000").attr("stroke-width", 1.1)

// labels
svg.append("text")
    .attr("x", margin.left + plotW / 2).attr("y", 31)
    .attr("text-anchor", "middle").attr("font-size", 16.7)
    .text("USDHKD M15 - Horus-like Price Bands & Regression")
svg.append("text")
    .attr("x", margin.left + plotW / 2).attr("y", 777)
    .attr("text-anchor", "middle").attr("font-size", 13.9)
    .text("Time")
svg.append("text")
    .attr("transform", `translate(30,${margin.top + plotH / 2}) rotate(-90)`)
    .attr("text-anchor", "middle").attr("font-size", 13.9)
    .text("Price")

// legend
const lg = svg.append("g").attr("transform", `translate(${margin.left + 8},${margin.top + plotH - 168})`)
lg.append("rect")
    .attr("width", 195).attr("height", 161).attr("rx", 3)
    .attr("fill", "#fff").attr("fill-opacity", 0.8)
    .attr("stroke", "#cccccc").attr("stroke-width", 1.1)
const items = lg.selectAll(".item").data(series).enter().append("g")
    .attr("transform", (d, i) => `translate(0,${12.5 + i * 22.3})`)
items.append("line")
    .attr("x1", 6).attr("x2", 39)
    .attr("stroke", d => d.color).attr("stroke-width", 2.08)
items.append("text")
    .attr("x", 51).attr("dy", "0.35em")
    .attr("font-size", 13.9)
    .text(d => d.name)
</script>
</body>
</html>
